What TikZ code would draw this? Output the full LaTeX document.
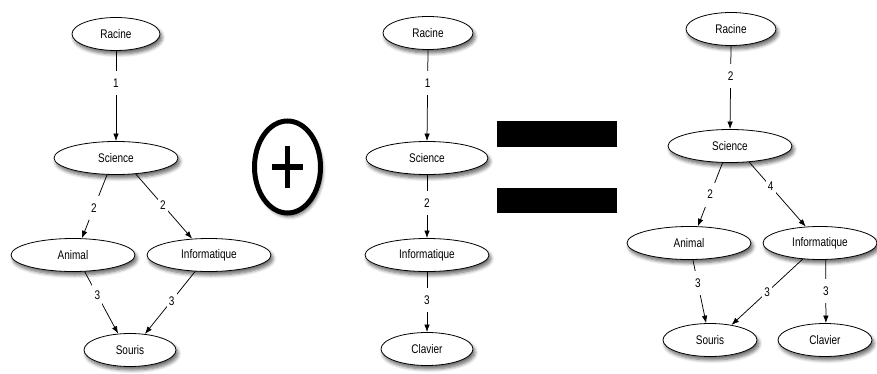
\documentclass[tikz,border=0pt]{standalone}
\usepackage{fontspec}
\setmainfont{Liberation Sans}[FakeStretch=0.8]
\usetikzlibrary{shapes.geometric,arrows.meta,shadows.blur}
\begin{document}
\begin{tikzpicture}[x=1pt,y=-1pt,
  every node/.style={font=\fontsize{12.5}{14}\selectfont, text=black},
  shad/.style={blur shadow={shadow xshift=2pt, shadow yshift=-3.5pt, shadow blur radius=3.5pt, shadow blur steps=6, shadow opacity=60}},
  nd/.style={ellipse, draw=black, line width=0.8pt, fill=white, inner sep=0pt,
    minimum width=#1, minimum height=33pt, shad},
  nd/.default=90,
  conn/.style={draw=black, line width=0.75pt, -{Latex[length=7.5pt,width=5.5pt]}},
  lab/.style={fill=white, inner sep=1pt, minimum height=24pt, minimum width=10pt}
]
\useasboundingbox (0,0) rectangle (877,374);

% ---------- left graph ----------
\node[nd=88]  (LR)  at (116,34)  {Racine};
\node[nd=124] (LS)  at (116,158) {Science};
\node[nd=124] (LA)  at (73,255)  {Animal};
\node[nd=124] (LI)  at (209,255) {Informatique};
\node[nd=92]  (LSo) at (130,350) {Souris};

\draw[conn] (LR.-90) -- node[lab,pos=0.36]{1} (LS.90);
\draw[conn] (LS.-118) -- node[lab,pos=0.52]{2} (LA.62);
\draw[conn] (LS.-39) -- node[lab,pos=0.48]{2} (LI.136);
\draw[conn] (LA.-55) -- node[lab,pos=0.38]{3} (LSo.126);
\draw[conn] (LI.-130) -- node[lab,pos=0.47]{3} (LSo.47);

% ---------- plus ----------
\node[ellipse, draw=black, line width=5pt, fill=white, minimum width=66pt, minimum height=92pt, inner sep=0pt, shad] (plus) at (287.5,167) {};
\draw[line width=5.5pt] ([xshift=-15.5pt]plus.center) -- ([xshift=15.5pt]plus.center);
\draw[line width=5.5pt] ([yshift=20.5pt]plus.center) -- ([yshift=-20.5pt]plus.center);

% ---------- middle graph ----------
\node[nd=90]  (MR) at (428,33)  {Racine};
\node[nd=122] (MS) at (427,158) {Science};
\node[nd=124] (MI) at (427,255) {Informatique};
\node[nd=92]  (MC) at (427,349) {Clavier};

\draw[conn] (MR.-90) -- node[lab,pos=0.36]{1} (MS.90);
\draw[conn] (MS.-90) -- node[lab,pos=0.45]{2} (MI.90);
\draw[conn] (MI.-90) -- node[lab,pos=0.47]{3} (MC.90);

% ---------- equals ----------
\fill[black] (497,121) rectangle (617,147);
\fill[black] (497,188) rectangle (617,213);

% ---------- right graph ----------
\node[nd=90]  (RR)  at (731,29)  {Racine};
\node[nd=124] (RS)  at (730,146) {Science};
\node[nd=124] (RA)  at (689,243) {Animal};
\node[nd=114] (RI)  at (820,243) {Informatique};
\node[nd=94]  (RSo) at (710,340) {Souris};
\node[nd=94]  (RC)  at (825,340) {Clavier};

\draw[conn] (RR.-90) -- node[lab,pos=0.36]{2} (RS.90);
\draw[conn] (RS.-114) -- node[lab,pos=0.5]{2} (RA.62);
\draw[conn] (RS.-40) -- node[lab,pos=0.38]{4} (RI.131);
\draw[conn] (RA.-77) -- node[lab,pos=0.37]{3} (RSo.103);
\draw[conn] (RI.-137) -- node[lab,pos=0.5]{3} (RSo.35);
\draw[conn] (RI.-71) -- node[lab,pos=0.5]{3} (RC.87);
\end{tikzpicture}
\end{document}
